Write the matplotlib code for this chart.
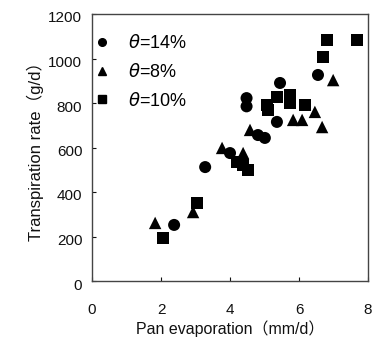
import matplotlib
matplotlib.use("Agg")
import matplotlib.pyplot as plt
from matplotlib.lines import Line2D
from matplotlib.transforms import ScaledTranslation

plt.rcParams['font.family'] = ['Liberation Sans', 'DejaVu Sans']
plt.rcParams['mathtext.fontset'] = 'dejavusans'

# theta = 14 %
x14 = [2.38, 3.28, 4.48, 4.48, 4.0, 4.81, 5.01, 5.36, 5.45, 6.55]
y14 = [252, 512, 822, 785, 575, 656, 643, 715, 890, 926]
# theta = 8 %
x8 = [1.83, 2.93, 3.77, 4.38, 4.58, 5.83, 6.09, 6.46, 6.67, 6.99]
y8 = [261, 310, 598, 575, 679, 724, 724, 760, 692, 903]
# theta = 10 %
x10 = [2.06, 3.04, 4.2, 4.38, 4.52, 5.07, 5.1, 5.36, 5.74, 5.74, 6.17, 6.7, 6.81, 7.68]
y10 = [193, 351, 535, 521, 499, 791, 769, 827, 836, 800, 791, 1007, 1083, 1083]

labels = [r"$\theta$=14%", r"$\theta$=8%", r"$\theta$=10%"]
xticks = [0, 2, 4, 6, 8]
yticks = [0, 200, 400, 600, 800, 1000, 1200]

fig = plt.figure(figsize=(3.77, 3.40), dpi=100)
ax = fig.add_axes([92/377, 1 - 281/340, 276/377, 267/340])

ax.scatter(x14, y14, marker='o', s=75, c='black', edgecolors='none')
ax.scatter(x8, y8, marker='^', s=80, c='black', edgecolors='none')
ax.scatter(x10, y10, marker='s', s=70, c='black', edgecolors='none')

ax.set_xlim(0, 8)
ax.set_ylim(0, 1200)
ax.set_xticks(xticks)
ax.set_yticks(yticks)
ax.tick_params(direction='in', length=3, labelsize=11, width=0.8, colors='#111111')
ax.tick_params(axis='x', pad=16)
ax.tick_params(axis='y', pad=7)
off = ScaledTranslation(0, -3/100, fig.dpi_scale_trans)
for lab in ax.get_yticklabels():
    lab.set_transform(lab.get_transform() + off)
for s in ax.spines.values():
    s.set_linewidth(1.0)
    s.set_color('#444444')

lab_font = ['Liberation Sans', 'Noto Sans CJK JP', 'DejaVu Sans']
ax.set_xlabel("Pan evaporation（mm/d）", fontsize=11.5, labelpad=2, family=lab_font, color='#111111')
ax.set_ylabel("Transpiration rate（g/d）", fontsize=12, labelpad=3, family=lab_font, color='#111111')

handles = [
    Line2D([], [], marker='o', color='black', linestyle='none', markersize=5.5),
    Line2D([], [], marker='^', color='black', linestyle='none', markersize=5.5),
    Line2D([], [], marker='s', color='black', linestyle='none', markersize=5.5),
]
ax.legend(handles, labels, loc='upper left', frameon=False, fontsize=13,
          handletextpad=0.9, labelspacing=0.6, borderaxespad=0, borderpad=0,
          handlelength=1.0, bbox_to_anchor=(0.005, 0.925))

fig.savefig("out.png", dpi=100)
